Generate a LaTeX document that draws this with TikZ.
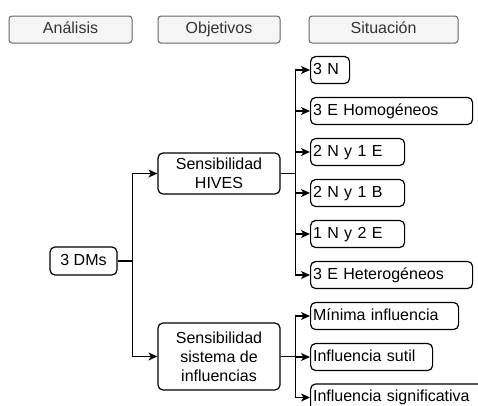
\documentclass[tikz,border=0pt]{standalone}
\usepackage{fontspec}
\setmainfont{Liberation Sans}
\usetikzlibrary{arrows.meta}
\begin{document}
\begin{tikzpicture}[x=1pt,y=-1pt,
  every node/.style={font=\fontsize{16}{19}\selectfont},
  oneline/.style={text height=11.5pt, text depth=3.5pt},
  hdr/.style={oneline, draw=black!60, fill=black!4, rounded corners=3pt, line width=1pt, minimum height=27pt, text=black!80, inner sep=0pt},
  obox/.style={draw, rounded corners=5pt, line width=1.2pt, align=center, inner sep=0pt},
  sbox/.style={oneline, draw, rounded corners=5pt, line width=1.2pt, minimum height=27pt, anchor=west, align=left, inner xsep=2.5pt, inner ysep=0pt},
  conn/.style={line width=1.2pt, -{Stealth[length=9pt,width=8pt,inset=2.5pt]}}
]
\useasboundingbox (0,0) rectangle (478,405);
\clip (0,0) rectangle (478,405);
% headers
\node[hdr, minimum width=123pt] (ha) at (70.5,29.5) {Análisis};
\node[hdr, minimum width=122pt] (hb) at (219,29.5) {Objetivos};
\node[hdr, minimum width=149pt] (hc) at (383.5,29.5) {Situación};
% main nodes
\node[obox, oneline, minimum width=67pt, minimum height=28pt] (dms) at (83.5,261) {3 DMs};
\node[obox, minimum width=122pt, minimum height=41pt] (hives) at (219,173.5) {Sensibilidad\\HIVES};
\node[obox, minimum width=122pt, minimum height=67pt] (infl) at (219,356.5) {Sensibilidad\\sistema de\\influencias};
% situations
\node[sbox, text width=34pt] (s1) at (310,70) {3 N};
\node[sbox, text width=157pt] (s2) at (310,111) {3 E Homogéneos};
\node[sbox, text width=89pt] (s3) at (310,152) {2 N y 1 E};
\node[sbox, text width=89pt] (s4) at (310,193) {2 N y 1 B};
\node[sbox, text width=89pt] (s5) at (310,234) {1 N y 2 E};
\node[sbox, text width=157pt] (s6) at (310,275) {3 E Heterogéneos};
\node[sbox, text width=143pt] (i1) at (310,316) {Mínima influencia};
\node[sbox, text width=117pt] (i2) at (310,357) {Influencia sutil};
\node[sbox, text width=180pt] (i3) at (310,397.5) {Influencia significativa};
% connectors
\draw[conn] (dms.east) -- ++(15,0) |- (hives.west);
\draw[conn] (dms.east) -- ++(15,0) |- (infl.west);
\foreach \s in {s1,s2,s3,s4,s5,s6}
  \draw[conn] (hives.east) -- ++(15,0) |- (\s.west);
\foreach \s in {i1,i2,i3}
  \draw[conn] (infl.east) -- ++(15,0) |- (\s.west);
\end{tikzpicture}
\end{document}
